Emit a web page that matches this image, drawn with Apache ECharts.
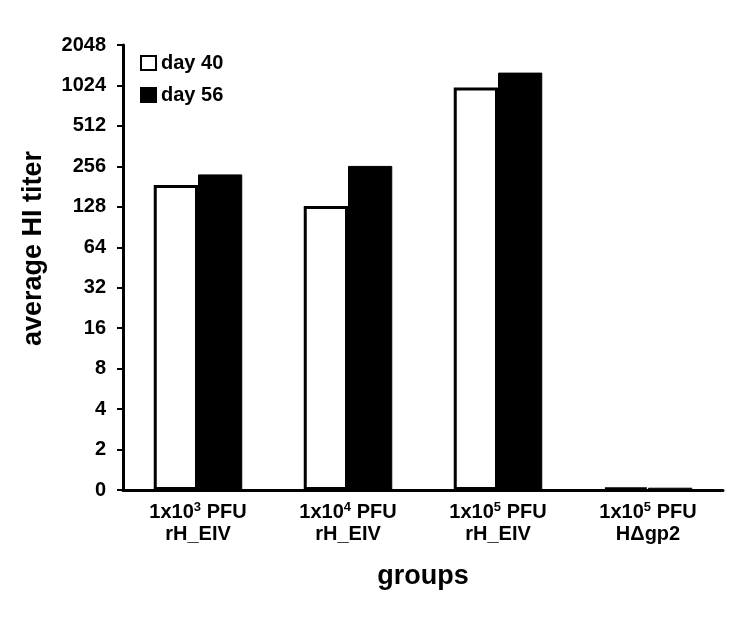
<!DOCTYPE html>
<html>
<head>
<meta charset="utf-8">
<script src="https://cdn.jsdelivr.net/npm/echarts@6/dist/echarts.min.js"></script>
<style>
  html, body { margin: 0; padding: 0; background: #fff; }
  #chart { width: 750px; height: 621px; }
</style>
</head>
<body>
<div id="chart"></div>
<script>
// group labels ({s|..} is the superscript exponent)
const groups = [
  '1x10{s|3} PFU\nrH_EIV',
  '1x10{s|4} PFU\nrH_EIV',
  '1x10{s|5} PFU\nrH_EIV',
  '1x10{s|5} PFU\nH\u0394gp2'
]
// average HI titer
const day40 = [186, 130, 990, 1.04]
const day56 = [223, 258, 1276, 1.04]
// axis runs 1..2048 in powers of 2, bottom tick (1) is labelled 0 in the figure
const tickMin = 1
const tickMax = 2048

const font = 'Liberation Sans, Arial, sans-serif'
const chart = echarts.init(document.getElementById('chart'))

chart.setOption({
  animation: false,
  grid: { left: 123, right: 27, top: 45, bottom: 131 },
  legend: {
    orient: 'vertical',
    left: 135,
    top: 48,
    itemWidth: 15,
    itemHeight: 14,
    itemGap: 12,
    icon: 'rect',
    textStyle: { fontFamily: font, fontWeight: 'bold', fontSize: 20, color: '#000' },
    data: ['day 40', 'day 56']
  },
  xAxis: {
    type: 'category',
    data: groups,
    name: 'groups',
    nameLocation: 'middle',
    nameGap: 73,
    nameTextStyle: { fontFamily: font, fontWeight: 'bold', fontSize: 27, color: '#000' },
    axisLine: { lineStyle: { color: '#000', width: 3 } },
    axisTick: { show: false },
    axisLabel: {
      interval: 0,
      margin: 11,
      fontFamily: font,
      fontWeight: 'bold',
      fontSize: 20,
      color: '#000',
      lineHeight: 22,
      rich: {
        s: { fontFamily: font, fontWeight: 'bold', fontSize: 13, color: '#000', verticalAlign: 'top', padding: [0, 0, 8, 0] }
      }
    }
  },
  yAxis: {
    type: 'log',
    logBase: 2,
    min: tickMin,
    max: tickMax,
    interval: 1,
    name: 'average HI titer',
    nameLocation: 'middle',
    nameRotate: 90,
    nameGap: 76,
    nameTextStyle: { fontFamily: font, fontWeight: 'bold', fontSize: 27, color: '#000', padding: [0, 0, 0, 38] },
    splitLine: { show: false },
    axisLine: { show: true, lineStyle: { color: '#000', width: 3 } },
    axisTick: { show: true, length: 6, lineStyle: { color: '#000', width: 2 } },
    axisLabel: {
      margin: 17,
      fontFamily: font,
      fontWeight: 'bold',
      fontSize: 20,
      color: '#000',
      formatter: v => {
        const r = Math.round(v)
        return r === 1 ? '0' : String(r)
      }
    }
  },
  series: [
    {
      name: 'day 40',
      type: 'bar',
      data: day40,
      barGap: '0%',
      barCategoryGap: '41%',
      itemStyle: { color: '#fff', borderColor: '#000', borderWidth: 3 }
    },
    {
      name: 'day 56',
      type: 'bar',
      data: day56,
      itemStyle: { color: '#000', borderColor: '#000', borderWidth: 1 }
    }
  ]
})
</script>
</body>
</html>
